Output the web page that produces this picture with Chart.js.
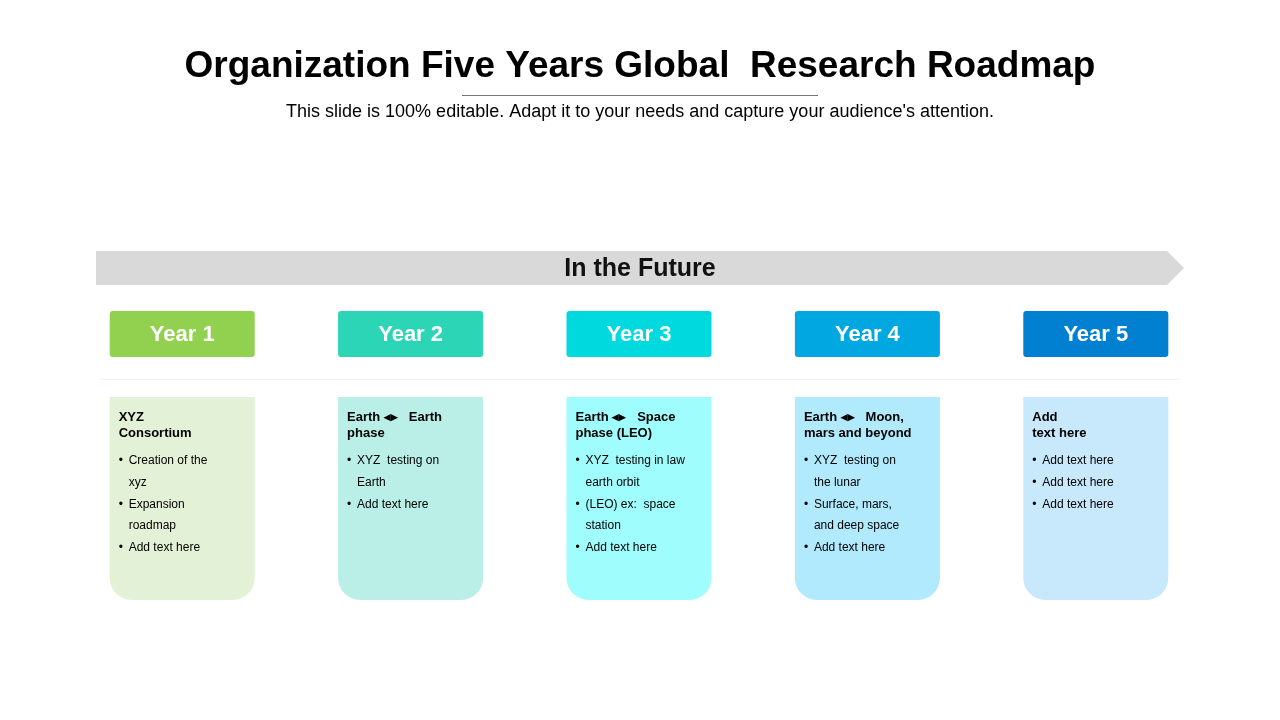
<!DOCTYPE html>
<html><head><meta charset="utf-8">
<script src="https://cdn.jsdelivr.net/npm/chart.js@4"></script>
<style>html,body{margin:0;padding:0;background:#fff}#c{display:block}</style>
</head><body>
<canvas id="c" width="1280" height="720"></canvas>
<script>
const years = ['Year 1', 'Year 2', 'Year 3', 'Year 4', 'Year 5'];
const headerRange = [311, 357];
const cardRange = [397, 600];
const headerColors = ['#92d050', '#2cd5b6', '#00d9de', '#00a7e1', '#0180d1'];
const cardColors = ['#e3f2d6', '#b9efe7', '#a0fdfe', '#b0eafc', '#c8e8fb'];
const cardTitles = [
    ['XYZ', 'Consortium'],
    ['Earth \u25C2\u25B8   Earth', 'phase'],
    ['Earth \u25C2\u25B8   Space', 'phase (LEO)'],
    ['Earth \u25C2\u25B8   Moon,', 'mars and beyond'],
    ['Add', 'text here']
];
const cardBullets = [
    [['Creation of the', 'xyz'], ['Expansion', 'roadmap'], ['Add text here']],
    [['XYZ  testing on', 'Earth'], ['Add text here']],
    [['XYZ  testing in law', 'earth orbit'], ['(LEO) ex:  space', 'station'], ['Add text here']],
    [['XYZ  testing on', 'the lunar'], ['Surface, mars,', 'and deep space'], ['Add text here']],
    [['Add text here'], ['Add text here'], ['Add text here']]
];

const FONT = 'Arial, "Liberation Sans", sans-serif';

const decor = {
    id: 'decor',
    beforeDatasetsDraw(chart) {
        const c = chart.ctx;
        c.save();
        // title
        c.fillStyle = '#000';
        c.textAlign = 'center';
        c.textBaseline = 'middle';
        c.font = 'bold 37px ' + FONT;
        c.fillText('Organization Five Years Global  Research Roadmap', 640, 67);
        c.strokeStyle = '#777';
        c.lineWidth = 1;
        c.beginPath(); c.moveTo(462, 95.5); c.lineTo(818, 95.5); c.stroke();
        c.font = '18px ' + FONT;
        c.fillText("This slide is 100% editable. Adapt it to your needs and capture your audience's attention.", 640, 112);
        // banner arrow
        c.fillStyle = '#d9d9d9';
        c.beginPath();
        c.moveTo(96, 251); c.lineTo(1167, 251); c.lineTo(1184, 268);
        c.lineTo(1167, 285); c.lineTo(96, 285); c.closePath(); c.fill();
        c.fillStyle = '#111';
        c.font = 'bold 25px ' + FONT;
        c.fillText('In the Future', 640, 269);
        // separator
        c.strokeStyle = '#eeeeee';
        c.beginPath(); c.moveTo(100, 379.5); c.lineTo(1180, 379.5); c.stroke();
        c.restore();
    },
    afterDatasetsDraw(chart) {
        const c = chart.ctx;
        const meta = chart.getDatasetMeta(1);
        const yAx = chart.scales.y;
        c.save();
        meta.data.forEach((bar, i) => {
            const left = bar.x - bar.width / 2;
            // header label
            c.fillStyle = '#fff';
            c.textAlign = 'center';
            c.textBaseline = 'middle';
            c.font = 'bold 22px ' + FONT;
            const hy = (yAx.getPixelForValue(headerRange[0]) + yAx.getPixelForValue(headerRange[1])) / 2;
            c.fillText(years[i], bar.x, hy + 1);
            // card text
            c.textAlign = 'left';
            c.fillStyle = '#000';
            c.font = 'bold 13px ' + FONT;
            let y = yAx.getPixelForValue(cardRange[0]) + 20;
            cardTitles[i].forEach(t => { c.fillText(t, left + 9, y); y += 16; });
            y += 12;
            c.font = '12px ' + FONT;
            cardBullets[i].forEach(b => {
                c.fillText('\u2022', left + 9, y);
                b.forEach(t => { c.fillText(t, left + 19, y); y += 21.7; });
            });
        });
        c.restore();
    }
};

new Chart(document.getElementById('c'), {
    type: 'bar',
    data: {
        labels: years,
        datasets: [
            {
                data: years.map(() => headerRange),
                backgroundColor: headerColors,
                borderRadius: 3,
                borderSkipped: false
            },
            {
                data: years.map(() => cardRange),
                backgroundColor: cardColors,
                borderRadius: { topLeft: 0, topRight: 0, bottomLeft: 22, bottomRight: 22 },
                borderSkipped: false
            }
        ]
    },
    options: {
        responsive: false,
        animation: false,
        layout: { padding: { left: 68, right: 70, top: 0, bottom: 0 } },
        datasets: { bar: { grouped: false, barPercentage: 0.635, categoryPercentage: 1 } },
        scales: {
            x: { display: false },
            y: { display: false, min: 0, max: 720, reverse: true }
        },
        plugins: { legend: { display: false }, tooltip: { enabled: false } }
    },
    plugins: [decor]
});
</script>
</body></html>
